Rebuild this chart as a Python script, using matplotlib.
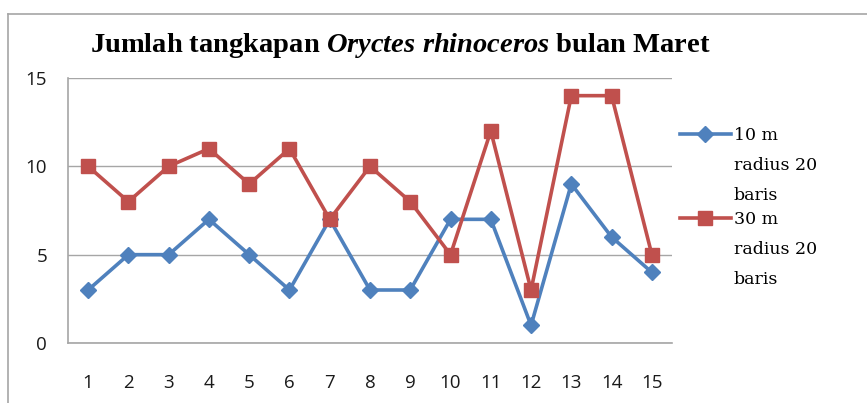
import matplotlib.pyplot as plt
from matplotlib.lines import Line2D

# ------------------------------------------------------------------ data
weeks = list(range(1, 16))
catch_10m = [3, 5, 5, 7, 5, 3, 7, 3, 3, 7, 7, 1, 9, 6, 4]
catch_30m = [10, 8, 10, 11, 9, 11, 7, 10, 8, 5, 12, 3, 14, 14, 5]
label_10m = "10 m\nradius 20\nbaris"
label_30m = "30 m\nradius 20\nbaris"
y_ticks = [0, 5, 10, 15]

BLUE = "#4F81BD"
RED = "#C0504D"
GRID = "#A6A6A6"

plt.rcParams["font.family"] = ["Open Sans", "DejaVu Sans"]
plt.rcParams["mathtext.fontset"] = "custom"
plt.rcParams["mathtext.it"] = "Liberation Serif:italic:bold"
plt.rcParams["mathtext.rm"] = "Liberation Serif:bold"

W, H = 867, 403
fig = plt.figure(figsize=(W / 100, H / 100), dpi=100)
ax = fig.add_axes([68 / W, 1 - 343 / H, 604 / W, 265 / H])

ax.plot(weeks, catch_10m, color=BLUE, lw=2.6, marker="D", ms=8, zorder=3)
ax.plot(weeks, catch_30m, color=RED, lw=2.6, marker="s", ms=10, zorder=3)

ax.set_xlim(0.5, 15.5)
ax.set_ylim(0, 15)
ax.set_yticks(y_ticks)
ax.set_xticks(weeks)
ax.tick_params(length=0, labelsize=13.5, colors="#1a1a1a")
ax.tick_params(axis="x", pad=22)
ax.tick_params(axis="y", pad=15)
ax.yaxis.grid(True, color=GRID, lw=1)
ax.set_axisbelow(True)
for side in ("top", "right"):
    ax.spines[side].set_visible(False)
for side in ("left", "bottom"):
    ax.spines[side].set_color(GRID)
    ax.spines[side].set_linewidth(1.2)

fig.text(400 / W, 1 - 46 / H,
         r"Jumlah tangkapan $\mathit{Oryctes\ rhinoceros}$ bulan Maret",
         ha="center", va="center", fontsize=20.5, fontweight="bold",
         family="Liberation Serif")

# legend: handle sits on the first line of each three-line label
for (y_px, color, marker, ms, label) in [
        (134, BLUE, "D", 8, label_10m),
        (218, RED, "s", 10, label_30m)]:
    y = 1 - y_px / H
    fig.add_artist(Line2D([680 / W, 705 / W, 731 / W], [y, y, y], color=color,
                          lw=2.6, marker=marker, ms=ms, markevery=[1]))
    fig.text(734 / W, y + 7 / H, label, ha="left", va="top", fontsize=12.5,
             family="DejaVu Serif", linespacing=2.0)

# outer chart frame (only top and left edges visible)
fig.add_artist(Line2D([8 / W, 1], [1 - 14 / H] * 2, color=GRID, lw=1.2))
fig.add_artist(Line2D([8 / W] * 2, [0, 1 - 14 / H], color=GRID, lw=1.2))

fig.savefig("out.png", dpi=100)
